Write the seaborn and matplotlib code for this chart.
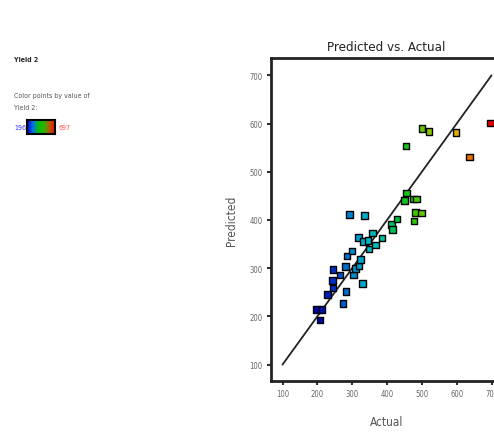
import numpy as np
import pandas as pd
import matplotlib
matplotlib.use('Agg')
import matplotlib.pyplot as plt
import seaborn as sns
from matplotlib.colors import LinearSegmentedColormap, Normalize

# actual vs predicted values for Yield 2
actual = [197, 214, 207, 229, 245, 244, 245, 265, 281, 282, 274, 285, 299, 292,
          336, 304, 309, 320, 324, 329, 318, 333, 345, 348, 359, 367, 386, 413,
          416, 428, 450, 477, 482, 499, 476, 485, 456, 454, 501, 520, 598, 636, 697]
predicted = [214, 214, 193, 245, 297, 274, 259, 286, 303, 252, 227, 325, 336, 411,
             409, 286, 299, 305, 318, 268, 364, 355, 357, 340, 373, 348, 363, 391,
             380, 402, 440, 398, 415, 414, 444, 444, 456, 553, 590, 584, 581, 531, 601]
yield_min, yield_max = 196, 697
ticks = [100, 200, 300, 400, 500, 600, 700]
diag = [100, 700]

cmap = LinearSegmentedColormap.from_list('de', [
    (0.00, '#0000a0'), (0.10, '#0030c8'), (0.20, '#0088d0'), (0.30, '#00b8c8'),
    (0.38, '#00c0a0'), (0.46, '#00c040'), (0.55, '#20c800'), (0.63, '#80c800'),
    (0.80, '#d8b000'), (0.88, '#e87000'), (1.00, '#e00000')])
norm = Normalize(yield_min, yield_max)

sns.set_style('white')
plt.rcParams['font.family'] = ['DejaVu Sans']
plt.rcParams['font.stretch'] = 'condensed'

df = pd.DataFrame({'actual': actual, 'predicted': predicted})

fig = plt.figure(figsize=(4.94, 4.35), dpi=100)
ax = fig.add_axes([0.5486, 0.1218, 0.4676, 0.7426])

ax.plot(diag, diag, color='#222222', lw=1.3, zorder=1)
sns.scatterplot(ax=ax, data=df, x='actual', y='predicted', hue='actual',
                palette=cmap, hue_norm=norm, marker='s', s=22,
                edgecolor='black', linewidth=1.0, legend=False, zorder=2)

ax.set_xlim(67, 730)
ax.set_ylim(66, 736)
ax.set_xticks(ticks)
ax.set_yticks(ticks)
ax.set_xticklabels(ticks, fontsize=5.5, color='#666666')
ax.set_yticklabels(ticks, fontsize=5.5, color='#666666')
ax.tick_params(direction='out', length=3, width=1.5, color='#333333', pad=3)
ax.tick_params(axis='both', which='both', bottom=True, left=True)
for side in ['left', 'bottom', 'top']:
    ax.spines[side].set_linewidth(2)
    ax.spines[side].set_color('#222222')
ax.spines['right'].set_visible(False)
ax.set_xlabel('Actual', fontsize=8.5, color='#555555', labelpad=12)
ax.set_ylabel('Predicted', fontsize=8.5, color='#555555', labelpad=8)
ax.set_title('Predicted vs. Actual', fontsize=9.5, color='#222222', pad=6)

# left-hand legend
fig.text(14 / 494, 1 - 60 / 435, 'Yield 2', fontsize=5, fontweight='bold', va='center')
fig.text(14 / 494, 1 - 96 / 435, 'Color points by value of', fontsize=5, color='#555555', va='center')
fig.text(14 / 494, 1 - 108 / 435, 'Yield 2:', fontsize=5, color='#555555', va='center')
fig.text(14 / 494, 1 - 128 / 435, str(yield_min), fontsize=5, color='#3030ff', va='center')
fig.text(58 / 494, 1 - 128 / 435, str(yield_max), fontsize=5, color='#ff5050', va='center')
cax = fig.add_axes([27 / 494, 1 - 135 / 435, 28 / 494, 14 / 435])
cax.imshow(np.linspace(0, 1, 100)[None, :], aspect='auto',
           cmap=LinearSegmentedColormap.from_list('bgr', ['#0000c0', '#0070f0', '#00c000', '#30b000', '#c05000', '#ff0000']))
cax.set_xticks([])
cax.set_yticks([])
for sp in cax.spines.values():
    sp.set_linewidth(1.5)
    sp.set_color('black')

fig.savefig('out.png', dpi=100)
